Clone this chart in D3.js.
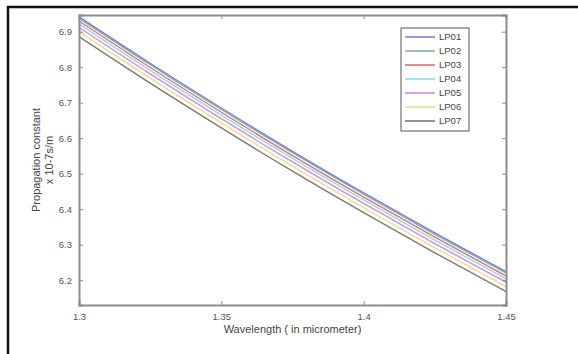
<!DOCTYPE html>
<html>
<head>
<meta charset="utf-8">
<script src="https://cdn.jsdelivr.net/npm/d3@7"></script>
<style>
  body { margin: 0; background: #fff; }
  svg { display: block; font-family: "Liberation Sans", Arial, sans-serif; }
</style>
</head>
<body>
<svg id="chart"></svg>
<script>
const wavelength = [1.30, 1.325, 1.35, 1.375, 1.40, 1.425, 1.45];
const seriesNames = ['LP01', 'LP02', 'LP03', 'LP04', 'LP05', 'LP06', 'LP07'];
const lp01 = [6.942, 6.811, 6.685, 6.563, 6.446, 6.333, 6.224];
const lp02 = [6.938, 6.807, 6.681, 6.559, 6.442, 6.329, 6.220];
const lp03 = [6.930, 6.799, 6.673, 6.551, 6.434, 6.321, 6.212];
const lp04 = [6.922, 6.791, 6.665, 6.543, 6.426, 6.313, 6.204];
const lp05 = [6.912, 6.781, 6.655, 6.533, 6.416, 6.303, 6.194];
const lp06 = [6.900, 6.769, 6.643, 6.521, 6.404, 6.291, 6.182];
const lp07 = [6.886, 6.755, 6.629, 6.507, 6.390, 6.277, 6.168];
const xTicks = [1.3, 1.35, 1.4, 1.45];
const yTicks = [6.2, 6.3, 6.4, 6.5, 6.6, 6.7, 6.8, 6.9];

const colors = ['#7b80e2', '#86b596', '#e07070', '#8adbe6', '#d58ae2', '#ecdc8a', '#7a7a7a'];
const series = [lp01, lp02, lp03, lp04, lp05, lp06, lp07];

const width = 578;
const height = 354;
const box = { left: 79, right: 506, top: 15, bottom: 305 };

const svg = d3.select('#chart')
  .attr('width', width)
  .attr('height', height);

// outer frame of the figure
svg.append('rect')
  .attr('x', 8).attr('y', 7)
  .attr('width', 600).attr('height', 400)
  .attr('fill', 'none')
  .attr('stroke', '#111')
  .attr('stroke-width', 2.5);

const x = d3.scaleLinear().domain([1.3, 1.45]).range([box.left, box.right]);
const y = d3.scaleLinear().domain([6.13, 6.947]).range([box.bottom, box.top]);

const line = d3.line()
  .x((d, i) => x(wavelength[i]))
  .y(d => y(d))
  .curve(d3.curveMonotoneX);

const lines = svg.append('g');
series.slice().reverse().forEach((s, j) => {
  const k = series.length - 1 - j;
  lines.append('path')
    .attr('d', line(s))
    .attr('fill', 'none')
    .attr('stroke', colors[k])
    .attr('stroke-width', 1.4);
});

// axes (MATLAB style, inward ticks on all sides)
const axisColor = '#8c8c8c';
const tickColor = '#555';

const xb = svg.append('g').attr('transform', `translate(0,${box.bottom})`)
  .call(d3.axisBottom(x).tickValues(xTicks).tickSize(-4).tickPadding(8).tickFormat(d => d3.format('')(d)));
const xt = svg.append('g').attr('transform', `translate(0,${box.top})`)
  .call(d3.axisTop(x).tickValues(xTicks).tickSize(-4).tickFormat(''));
const yl = svg.append('g').attr('transform', `translate(${box.left},0)`)
  .call(d3.axisLeft(y).tickValues(yTicks).tickSize(-4).tickPadding(7).tickFormat(d3.format('.1f')));
const yr = svg.append('g').attr('transform', `translate(${box.right},0)`)
  .call(d3.axisRight(y).tickValues(yTicks).tickSize(-4).tickFormat(''));

[xb, xt, yl, yr].forEach(g => {
  g.select('.domain').attr('stroke', axisColor).attr('stroke-width', 2);
  g.selectAll('.tick line').attr('stroke', axisColor).attr('stroke-width', 1);
  g.selectAll('.tick text').attr('fill', tickColor).attr('font-size', 9.5)
    .attr('font-family', '"Liberation Sans", Arial, sans-serif');
});

// labels
svg.append('text')
  .attr('x', (box.left + box.right) / 2)
  .attr('y', 333)
  .attr('text-anchor', 'middle')
  .attr('font-size', 11)
  .attr('fill', '#444')
  .text('Wavelength ( in micrometer)');

const yLab = svg.append('text')
  .attr('transform', `translate(40,${(box.top + box.bottom) / 2}) rotate(-90)`)
  .attr('text-anchor', 'middle')
  .attr('font-size', 11)
  .attr('fill', '#444');
yLab.append('tspan').attr('x', 0).attr('dy', 0).text('Propagation constant');
yLab.append('tspan').attr('x', 0).attr('dy', 13).text('x 10-7s/m');

// legend
const legend = svg.append('g').attr('transform', 'translate(401,28)');
legend.append('rect')
  .attr('width', 68).attr('height', 103)
  .attr('fill', '#fff')
  .attr('stroke', '#555')
  .attr('stroke-width', 1);

seriesNames.forEach((name, i) => {
  const row = legend.append('g').attr('transform', `translate(0,${9 + i * 14})`);
  row.append('line')
    .attr('x1', 4).attr('x2', 34)
    .attr('stroke', colors[i])
    .attr('stroke-width', 1.6);
  row.append('text')
    .attr('x', 38).attr('dy', '0.35em')
    .attr('font-size', 9.5)
    .attr('fill', '#444')
    .text(name);
});
</script>
</body>
</html>
